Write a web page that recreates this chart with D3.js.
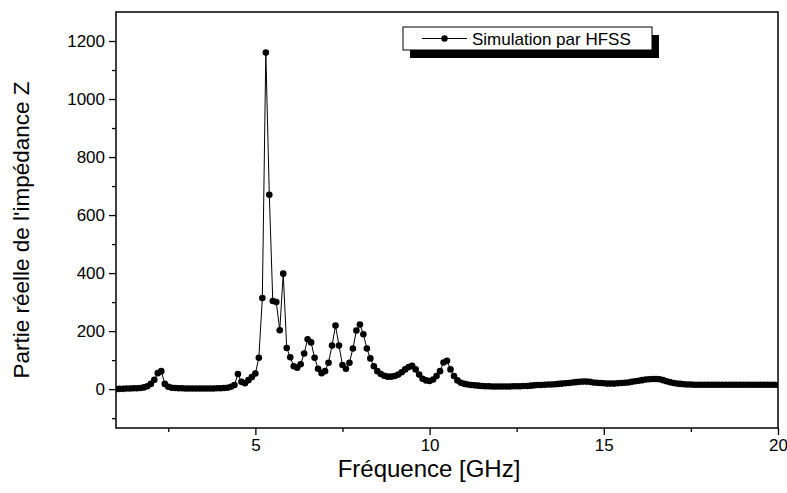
<!DOCTYPE html>
<html>
<head>
<meta charset="utf-8">
<script src="https://cdn.jsdelivr.net/npm/d3@7"></script>
<style>
  body { margin: 0; background: #fff; }
  svg { font-family: "Liberation Sans", Arial, sans-serif; }
</style>
</head>
<body>
<div id="chart"></div>
<script>
// frequency grid (GHz), one point every 0.1 GHz from 1 to 20
const freqStart = 1.0;
const freqStep = 0.1;

const impedance = [
  0, 1, 1, 2, 2, 3, 3, 4, 6, 10,              // 1.0 - 1.9
  18, 32, 55, 62, 18, 8, 5, 4, 3, 3,          // 2.0 - 2.9
  2, 2, 2, 2, 2, 2, 2, 2, 2, 3,               // 3.0 - 3.9
  3, 4, 5, 8, 14, 52, 25, 20, 31, 42,         // 4.0 - 4.9
  54, 108, 314, 1160, 670, 304, 300, 203, 398, 142, // 5.0 - 5.9
  110, 79, 74, 86, 123, 172, 161, 108, 70, 55,     // 6.0 - 6.9
  62, 91, 150, 219, 150, 83, 70, 91, 140, 202,     // 7.0 - 7.9
  223, 189, 140, 106, 79, 62, 52, 46, 43, 43,      // 8.0 - 8.9
  45, 50, 58, 68, 76, 80, 68, 50, 36, 30,          // 9.0 - 9.9
  28, 33, 45, 62, 92, 98, 68, 45, 30, 22,          // 10.0 - 10.9
  18, 16, 14, 13, 12, 11, 10, 10, 9, 9,            // 11.0 - 11.9
  9, 9, 9, 9, 10, 10, 10, 11, 11, 12,              // 12.0 - 12.9
  13, 14, 14, 15, 16, 16, 17, 18, 19, 20,          // 13.0 - 13.9
  21, 23, 24, 25, 26, 26, 25, 23, 22, 21,          // 14.0 - 14.9
  20, 19, 19, 19, 20, 21, 22, 23, 25, 27,          // 15.0 - 15.9
  29, 31, 33, 34, 35, 35, 34, 31, 27, 24,          // 16.0 - 16.9
  21, 19, 18, 17, 16, 16, 15, 15, 15, 15,          // 17.0 - 17.9
  15, 15, 15, 15, 15, 15, 15, 15, 15, 15,          // 18.0 - 18.9
  15, 15, 15, 15, 15, 15, 15, 15, 15, 15,          // 19.0 - 19.9
  14                                               // 20.0
];

const xMajorTicks = [5, 10, 15, 20];
const xMinorTicks = [2.5, 7.5, 12.5, 17.5];
const yMajorTicks = [0, 200, 400, 600, 800, 1000, 1200];
const yMinorTicks = [-100, 100, 300, 500, 700, 900, 1100];

const seriesName = "Simulation par HFSS";
const xTitle = "Fréquence [GHz]";
const yTitle = "Partie réelle de l'impédance Z";

const data = impedance.map((v, i) => ({
  f: +(freqStart + i * freqStep).toFixed(1),
  z: v
}));

const width = 787, height = 493;
const margin = { top: 12, right: 9, bottom: 65, left: 116 };
const innerW = width - margin.left - margin.right;
const innerH = height - margin.top - margin.bottom;

const svg = d3.select("#chart")
  .append("svg")
  .attr("width", width)
  .attr("height", height);

const g = svg.append("g")
  .attr("transform", `translate(${margin.left},${margin.top})`);

const x = d3.scaleLinear().domain([1, 20]).range([0, innerW]);
const y = d3.scaleLinear().domain([-134, 1300]).range([innerH, 0]);

// minor ticks first, so the major ones sit on top
g.append("g")
  .attr("transform", `translate(0,${innerH})`)
  .call(d3.axisBottom(x).tickValues(xMinorTicks).tickSize(4).tickFormat(""))
  .call(a => a.select(".domain").remove());

g.append("g")
  .call(d3.axisLeft(y).tickValues(yMinorTicks).tickSize(4).tickFormat(""))
  .call(a => a.select(".domain").remove());

const xAxis = g.append("g")
  .attr("transform", `translate(0,${innerH})`)
  .call(d3.axisBottom(x).tickValues(xMajorTicks).tickSize(7).tickPadding(4).tickFormat(d3.format("d")));

const yAxis = g.append("g")
  .call(d3.axisLeft(y).tickValues(yMajorTicks).tickSize(7).tickPadding(4).tickFormat(d3.format("d")));

[xAxis, yAxis].forEach(a => {
  a.selectAll("text").style("font-size", "17px").attr("fill", "#000");
  a.select(".domain").remove();
});
g.selectAll(".tick line").attr("stroke", "#000").attr("stroke-width", 1.3);

// frame
g.append("rect")
  .attr("x", 0).attr("y", 0)
  .attr("width", innerW).attr("height", innerH)
  .attr("fill", "none")
  .attr("stroke", "#000")
  .attr("stroke-width", 1.5);

// clip so the line stays in the box
g.append("clipPath").attr("id", "clip")
  .append("rect").attr("width", innerW).attr("height", innerH);

const plot = g.append("g").attr("clip-path", "url(#clip)");

const line = d3.line()
  .x(d => x(d.f))
  .y(d => y(d.z));

plot.append("path")
  .datum(data)
  .attr("fill", "none")
  .attr("stroke", "#000")
  .attr("stroke-width", 1)
  .attr("d", line);

plot.selectAll("circle")
  .data(data)
  .enter()
  .append("circle")
  .attr("cx", d => x(d.f))
  .attr("cy", d => y(d.z))
  .attr("r", 3.3)
  .attr("fill", "#000");

// axis titles
svg.append("text")
  .attr("x", 429)
  .attr("y", 477)
  .attr("text-anchor", "middle")
  .style("font-size", "24px")
  .text(xTitle);

svg.append("text")
  .attr("transform", `translate(29,${margin.top + innerH / 2 + 10}) rotate(-90)`)
  .attr("text-anchor", "middle")
  .style("font-size", "22.5px")
  .text(yTitle);

// legend with its drop shadow
const legend = svg.append("g").attr("transform", "translate(403,27)");
legend.append("rect")
  .attr("x", 7).attr("y", 8)
  .attr("width", 249).attr("height", 23)
  .attr("fill", "#000");
legend.append("rect")
  .attr("x", 0).attr("y", 0)
  .attr("width", 249).attr("height", 23)
  .attr("fill", "#fff")
  .attr("stroke", "#000")
  .attr("stroke-width", 1);
legend.append("line")
  .attr("x1", 19).attr("x2", 64)
  .attr("y1", 11.5).attr("y2", 11.5)
  .attr("stroke", "#000");
legend.append("circle")
  .attr("cx", 41.5).attr("cy", 11.5).attr("r", 3.2)
  .attr("fill", "#000");
legend.append("text")
  .attr("x", 69).attr("y", 17.5)
  .style("font-size", "17px")
  .text(seriesName);
</script>
</body>
</html>
